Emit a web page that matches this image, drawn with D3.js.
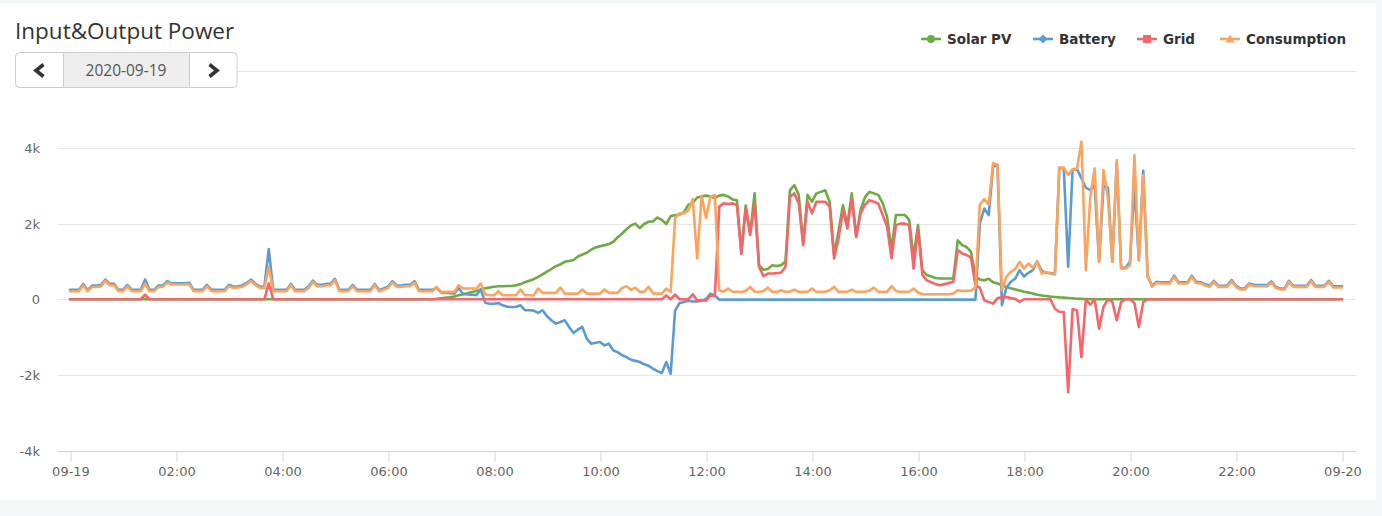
<!DOCTYPE html>
<html><head><meta charset="utf-8">
<script src="https://cdn.jsdelivr.net/npm/d3@7"></script>
<style>html,body{margin:0;padding:0;background:#f2f6f6;overflow:hidden}svg{display:block}</style>
</head><body><svg id="chart" width="1382" height="516"></svg>
<script>
// ---------- data (5-minute samples, 2020-09-19 00:00 .. 2020-09-20 00:00) ----------
const startTime = "2020-09-19 00:00";
const endTime = "2020-09-20 00:00";
const stepMinutes = 5;

const solarPV = [
0,0,0,0,0,0,0,0,0,0,0,0,
0,0,0,0,0,0,0,0,0,0,0,0,
0,0,0,0,0,0,0,0,0,0,0,0,
0,0,0,0,0,0,0,0,0,0,0,0,
0,0,0,0,0,0,0,0,0,0,0,0,
0,0,0,0,0,0,0,0,0,0,0,0,
0,0,0,0,0,0,0,0,0,0,0,10,
25,40,55,75,105,130,160,190,220,260,290,310,
330,345,345,350,350,370,400,450,490,530,590,660,
730,800,875,920,990,1010,1040,1130,1180,1230,1310,1370,
1400,1430,1460,1520,1640,1740,1850,1950,2000,1880,1990,2050,
2060,2160,2100,1990,2200,2220,2240,2300,2500,2550,2690,2720,
2740,2720,2680,2740,2760,2720,2640,2620,1250,2480,1740,2800,
900,780,800,900,880,900,1000,2880,3020,2760,1480,2760,
2580,2800,2840,2880,2580,1170,1800,2490,1960,2800,1650,2360,
2700,2840,2800,2760,2540,2180,1300,2230,2230,2230,2100,1120,
1960,770,640,600,560,550,550,550,550,1560,1430,1380,
1250,600,520,500,540,450,420,370,327,290,260,230,
200,180,150,120,100,88,70,60,50,44,35,25,
15,9,5,2,0,0,0,0,0,0,0,0,
0,0,0,0,0,0,0,0,0,0,0,0,
0,0,0,0,0,0,0,0,0,0,0,0,
0,0,0,0,0,0,0,0,0,0,0,0,
0,0,0,0,0,0,0,0,0,0,0,0,
0];

const battery = [
247,247,247,406,247,362,362,375,521,406,406,247,
247,380,247,247,247,521,247,247,362,362,477,424,
424,424,424,435,247,247,247,380,247,247,247,247,
380,335,345,365,435,521,406,335,335,1325,247,247,
247,247,406,247,247,247,335,494,380,380,406,406,
538,247,247,247,380,247,247,247,247,406,247,285,
335,477,362,362,380,380,477,247,247,247,247,300,
180,170,160,150,300,140,130,120,110,256,-90,-120,
-120,-100,-160,-200,-203,-200,-159,-290,-291,-300,-362,-291,
-450,-556,-645,-600,-556,-733,-892,-800,-733,-1042,-1175,-1150,
-1130,-1219,-1175,-1351,-1400,-1480,-1528,-1600,-1630,-1660,-1720,-1760,
-1837,-1900,-1952,-1660,-1970,-300,-100,-70,-40,-60,-60,-40,
0,150,100,-10,-10,-10,-10,-10,-10,-10,-10,-10,
-10,-10,-10,-10,-10,-10,-10,-10,-10,-10,-10,-10,
-10,-10,-10,-10,-10,-10,-10,-10,-10,-10,-10,-10,
-10,-10,-10,-10,-10,-10,-10,-10,-10,-10,-10,-10,
-10,-10,-10,-10,-10,-10,-10,-10,-10,-10,-10,-10,
-10,-10,2000,2400,2226,3500,3550,-159,300,460,548,768,
600,700,768,1000,750,700,690,680,3463,3463,860,3436,
3440,3200,2950,2888,3000,990,3000,2950,990,3600,830,830,
1000,3000,1030,3400,620,357,463,445,445,445,622,445,
445,445,622,460,450,401,357,489,357,357,357,507,
357,286,286,419,375,375,375,375,472,330,286,286,
489,357,357,357,357,507,357,357,357,489,340,340,
340];

const grid = [
0,0,0,0,0,0,0,0,0,0,0,0,
0,0,0,0,0,124,0,0,0,0,0,0,
0,0,0,0,0,0,0,0,0,0,0,0,
0,0,0,0,0,0,0,0,0,420,0,0,
0,0,0,0,0,0,0,0,0,0,0,0,
0,0,0,0,0,0,0,0,0,0,0,0,
0,0,0,0,0,0,0,0,0,0,0,0,
0,0,0,0,0,0,0,0,0,0,0,0,
0,0,0,0,0,0,0,0,0,0,0,0,
0,0,0,0,0,0,0,0,0,0,0,0,
0,0,0,0,0,0,0,0,0,0,0,0,
0,0,0,100,0,120,0,0,0,130,-30,-20,
-40,100,80,2450,2535,2520,2535,2490,1200,2400,1700,2535,
860,610,680,680,690,700,860,2710,2800,2535,1430,2580,
2270,2580,2580,2580,2450,1080,1600,2360,1870,2670,1650,2270,
2500,2620,2580,2530,2230,1920,1080,1960,2000,2000,1960,810,
1870,640,500,450,400,370,400,430,460,1300,1210,1170,
1100,370,300,-30,-70,-115,35,50,60,30,10,-70,
0,0,0,0,0,0,0,-250,-330,-336,-2456,-260,
-290,-1528,0,-141,0,-777,-200,0,-70,-556,-70,0,
0,-100,-733,-70,0,0,0,0,0,0,0,0,
0,0,0,0,0,0,0,0,0,0,0,0,
0,0,0,0,0,0,0,0,0,0,0,0,
0,0,0,0,0,0,0,0,0,0,0,0,
0];

const consumption = [
212,212,212,371,212,327,327,340,486,371,371,212,
212,345,212,212,212,415,212,212,327,327,442,389,
389,389,389,400,212,212,212,345,212,212,212,212,
345,300,310,330,400,486,371,300,300,856,212,212,
212,212,371,212,212,212,300,459,345,345,371,371,
503,212,212,212,345,212,212,212,212,371,212,250,
300,442,327,327,345,345,442,212,212,212,212,327,
194,194,194,194,371,283,283,283,283,415,132,106,
106,212,106,106,106,106,256,106,106,106,283,168,
168,168,168,309,150,150,150,150,256,150,150,150,
150,256,168,168,168,300,345,250,309,194,194,330,
150,150,150,283,194,2150,2270,2270,2350,2650,1078,2730,
2150,2712,2756,238,200,283,200,194,194,220,327,200,
194,220,309,194,194,238,194,200,256,194,194,200,
283,194,194,194,240,327,194,194,200,256,194,194,
200,230,309,194,194,194,345,220,194,194,200,283,
180,132,132,132,132,132,132,132,150,240,221,221,
230,309,2500,2650,2500,3600,3550,240,600,724,800,990,
813,945,830,990,680,720,680,654,3480,3480,3290,3436,
3460,4170,770,2685,3463,990,3419,2680,990,3683,813,810,
900,3816,1033,3286,592,327,433,415,415,415,592,415,
415,415,592,430,420,371,327,459,327,327,327,477,
327,256,256,389,345,345,345,345,442,300,256,256,
459,327,327,327,327,477,327,327,327,459,310,310,
310];

const seriesNames = ["Solar PV", "Battery", "Grid", "Consumption"];
const seriesColors = ["#6cab42", "#5b9bd5", "#f7656a", "#ffa35c"];
const seriesMarkers = ["circle", "diamond", "square", "triangle"];
const yTickValues = [-4000, -2000, 0, 2000, 4000];
const yTickLabels = ["-4k", "-2k", "0", "2k", "4k"];
const xTickLabels = ["09-19","02:00","04:00","06:00","08:00","10:00","12:00","14:00","16:00","18:00","20:00","22:00","09-20"];
const titleText = "Input&Output Power";
const dateText = "2020-09-19";

// ---------- drawing ----------
const svg = d3.select("#chart");
const parse = d3.timeParse("%Y-%m-%d %H:%M");
const t0 = parse(startTime), t1 = parse(endTime);
const times = d3.range(solarPV.length).map(i => d3.timeMinute.offset(t0, i * stepMinutes));

const x = d3.scaleTime().domain([t0, t1]).range([70, 1342]);
const y = d3.scaleLinear().domain([-4000, 4000]).range([450.5, 148]);
const plotLeft = 58, plotRight = 1356;

// panel
svg.append("rect").attr("x", 0).attr("y", 3).attr("width", 1376).attr("height", 497).attr("fill", "#ffffff");

// title
svg.append("text").attr("x", 15).attr("y", 39).text(titleText)
  .attr("font-family", "'Open Sans', sans-serif").attr("font-size", 22.5).attr("fill", "#333");

// date picker
const dp = svg.append("g");
dp.append("line").attr("x1", 237).attr("x2", plotRight).attr("y1", 71.5).attr("y2", 71.5).attr("stroke", "#e6e6e6");
dp.append("rect").attr("x", 63).attr("y", 52.5).attr("width", 126).attr("height", 35).attr("fill", "#eeeeee");
dp.append("rect").attr("x", 15.5).attr("y", 52.5).attr("width", 221.5).attr("height", 35).attr("rx", 4)
  .attr("fill", "none").attr("stroke", "#cccccc");
dp.append("line").attr("x1", 63.5).attr("x2", 63.5).attr("y1", 52.5).attr("y2", 87.5).attr("stroke", "#cccccc");
dp.append("line").attr("x1", 189.5).attr("x2", 189.5).attr("y1", 52.5).attr("y2", 87.5).attr("stroke", "#cccccc");
dp.append("text").attr("x", 126).attr("y", 76).attr("text-anchor", "middle").text(dateText)
  .attr("font-family", "'Open Sans', sans-serif").attr("font-size", 15.5).attr("fill", "#555");
dp.append("path").attr("d", "M43.5,64.5 L36,70.5 L43.5,76.5").attr("fill", "none")
  .attr("stroke", "#333").attr("stroke-width", 3.6).attr("stroke-linejoin", "miter");
dp.append("path").attr("d", "M209.5,64.5 L217,70.5 L209.5,76.5").attr("fill", "none")
  .attr("stroke", "#333").attr("stroke-width", 3.6).attr("stroke-linejoin", "miter");

// y grid lines and labels
const yAxisG = svg.append("g");
yTickValues.forEach((v, i) => {
  const yy = Math.round(y(v)) + 0.5;
  if (v !== -4000) {
    yAxisG.append("line").attr("x1", plotLeft).attr("x2", plotRight).attr("y1", yy).attr("y2", yy)
      .attr("stroke", "#e6e6e6");
  }
  yAxisG.append("text").attr("x", 40).attr("y", yy).attr("dy", "0.35em").attr("text-anchor", "end")
    .text(yTickLabels[i]).attr("font-family", "'DejaVu Sans', sans-serif").attr("font-size", 13).attr("fill", "#666");
});

// x axis
const xTicks = d3.timeHour.every(2).range(t0, d3.timeMinute.offset(t1, 1));
const xAxis = d3.axisBottom(x).tickValues(xTicks).tickFormat((d, i) => xTickLabels[i]).tickSize(10).tickPadding(5);
const xg = svg.append("g").attr("transform", `translate(0.5,${Math.round(y(-4000)) + 0.5})`).call(xAxis);
xg.select(".domain").remove();
xg.selectAll(".tick line").attr("stroke", "#ccd6eb");
xg.selectAll(".tick text").attr("font-family", "'DejaVu Sans', sans-serif").attr("font-size", 13).attr("fill", "#666");
svg.append("line").attr("x1", plotLeft).attr("x2", plotRight)
  .attr("y1", Math.round(y(-4000)) + 0.5).attr("y2", Math.round(y(-4000)) + 0.5).attr("stroke", "#ccd6eb");

// lines
const allSeries = [solarPV, battery, grid, consumption];
const line = d3.line().x((d, i) => x(times[i])).y(d => y(d));
allSeries.forEach((s, k) => {
  svg.append("path").datum(s).attr("d", line).attr("fill", "none")
    .attr("stroke", seriesColors[k]).attr("stroke-width", 2.6)
    .attr("stroke-linejoin", "round").attr("stroke-linecap", "round");
});

// legend
const lg = svg.append("g");
const legendStarts = [921, 1033, 1137, 1220];
const ly = 39;
seriesNames.forEach((name, k) => {
  const c = seriesColors[k];
  const lx = legendStarts[k];
  lg.append("line").attr("x1", lx).attr("x2", lx + 20).attr("y1", ly).attr("y2", ly).attr("stroke", c).attr("stroke-width", 2.6);
  const cx = lx + 10;
  const m = seriesMarkers[k];
  if (m === "circle") lg.append("circle").attr("cx", cx).attr("cy", ly).attr("r", 4).attr("fill", c);
  else if (m === "diamond") lg.append("path").attr("d", `M${cx},${ly-4.5} L${cx+4.5},${ly} L${cx},${ly+4.5} L${cx-4.5},${ly} Z`).attr("fill", c);
  else if (m === "square") lg.append("rect").attr("x", cx - 4).attr("y", ly - 4).attr("width", 8).attr("height", 8).attr("fill", c);
  else lg.append("path").attr("d", `M${cx},${ly-4.5} L${cx+4.5},${ly+3.5} L${cx-4.5},${ly+3.5} Z`).attr("fill", c);
  lg.append("text").attr("x", lx + 26).attr("y", ly).attr("dy", "0.35em").text(name)
    .attr("font-family", "'DejaVu Sans', sans-serif").attr("font-weight", "bold").attr("font-size", 13.5).attr("fill", "#333");
});
</script>
</body></html>
